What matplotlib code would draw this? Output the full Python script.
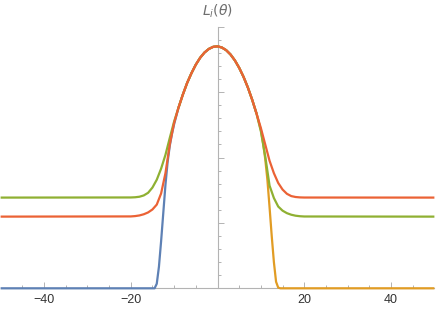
import numpy as np
import matplotlib
matplotlib.use("Agg")
import matplotlib.pyplot as plt
from matplotlib.ticker import FixedLocator, MultipleLocator, NullFormatter

# values
theta_core = list(range(-9, 10))
L_core = [2.76, 2.96, 3.14, 3.29, 3.42, 3.525, 3.605, 3.66, 3.692, 3.70,
          3.682, 3.641, 3.575, 3.485, 3.371, 3.233, 3.07, 2.882, 2.671]

theta_left = [-50] + list(range(-20, -9))
theta_right = list(range(10, 21)) + [50]

green_left = [1.387, 1.389, 1.392, 1.40, 1.42, 1.46, 1.54, 1.66, 1.83, 2.04, 2.30, 2.55]
green_right = [2.40, 2.02, 1.57, 1.38, 1.25, 1.187, 1.149, 1.125, 1.11, 1.102, 1.098, 1.096]
red_left = [1.096, 1.099, 1.104, 1.114, 1.132, 1.16, 1.205, 1.28, 1.45, 1.76, 2.20, 2.53]
red_right = [2.45, 2.20, 1.95, 1.76, 1.61, 1.51, 1.445, 1.41, 1.396, 1.39, 1.388, 1.387]

theta_blue = [-50, -14.5, -14, -13.5, -13, -12.5, -12, -11.5, -11, -10.5, -10]
blue_left = [0.0, 0.0, 0.07, 0.33, 0.72, 1.15, 1.58, 1.93, 2.18, 2.36, 2.51]
theta_orange = [10, 10.5, 11, 11.5, 12, 12.5, 13, 13.5, 14, 14.5, 50]
orange_right = [2.42, 2.22, 1.98, 1.66, 1.24, 0.80, 0.40, 0.10, 0.01, 0.0, 0.0]

x_labels = [-40, -20, 20, 40]

c_blue = '#5E81B5'
c_orange = '#E19C24'
c_green = '#8FB032'
c_red = '#EB6235'
axis_col = '#b3b3b3'

fig = plt.figure(figsize=(4.36, 3.09), dpi=100)
ax = fig.add_axes([0.6/436, (309-288.3)/309, 433.8/436, (288.3-26.7)/309])

lw = 1.6
kw = dict(lw=lw, clip_on=False, solid_capstyle='butt', solid_joinstyle='round')
ax.plot(theta_blue + theta_core, blue_left + L_core, color=c_blue, **kw)
ax.plot(theta_core + theta_orange, L_core + orange_right, color=c_orange, **kw)
ax.plot(theta_left + theta_core + theta_right, green_left + L_core + green_right, color=c_green, **kw)
ax.plot(theta_left + theta_core + theta_right, red_left + L_core + red_right, color=c_red, **kw)

ax.set_xlim(-50, 50)
ax.set_ylim(0, 4)

for s in ['top', 'right']:
    ax.spines[s].set_visible(False)
ax.spines['left'].set_position(('data', 0))
for s in ['left', 'bottom']:
    ax.spines[s].set_color(axis_col)
    ax.spines[s].set_linewidth(0.8)
    ax.spines[s].set_zorder(0)

ax.xaxis.set_major_locator(FixedLocator(x_labels))
ax.xaxis.set_minor_locator(FixedLocator([v for v in range(-45, 50, 5) if v not in x_labels and v != 0]))
ax.yaxis.set_major_locator(MultipleLocator(1))
ax.yaxis.set_minor_locator(MultipleLocator(0.2))
ax.yaxis.set_major_formatter(NullFormatter())

ax.tick_params(axis='x', which='major', direction='in', length=4, width=0.7, color=axis_col,
               labelsize=9, labelcolor='#333333', pad=4)
ax.tick_params(axis='x', which='minor', direction='in', length=2.5, width=0.7, color=axis_col)
ax.tick_params(axis='y', which='major', direction='in', length=4, width=0.7, color=axis_col)
ax.tick_params(axis='y', which='minor', direction='in', length=2.5, width=0.7, color=axis_col)
for t in ax.get_xticklabels():
    t.set_family('Liberation Sans')

fig.text(217.5/436, 1 - 11/309, r'$L_i(\theta)$', ha='center', va='center', fontsize=10, color='#6e6e6e')

fig.savefig('out.png', dpi=100)
